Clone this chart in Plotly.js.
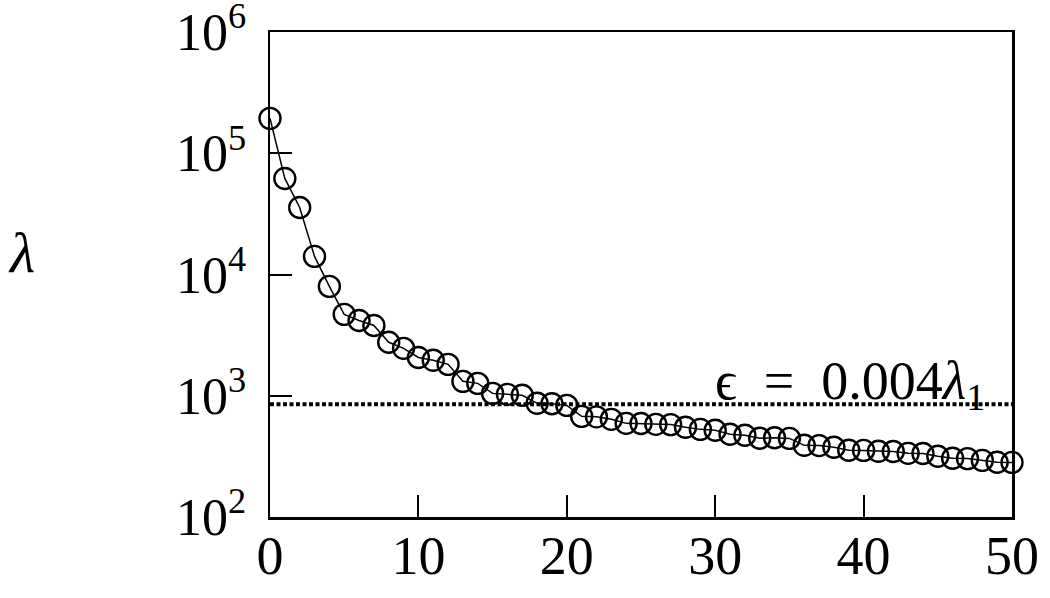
<!DOCTYPE html>
<html>
<head>
<meta charset="utf-8">
<script src="https://cdn.plot.ly/plotly-3.0.1.min.js"></script>
<style>
  html, body { margin: 0; padding: 0; background: #fff; }
  #eigfig { width: 1050px; height: 598px; }
</style>
</head>
<body>
<div id="eigfig"></div>
<script>
// eigenvalue index and value
var idx = [];
for (var i = 0; i <= 50; i++) idx.push(i);

var lambda = [194000, 62000, 35700, 14100, 7980, 4690, 4180, 3800, 2760, 2460,
              2070, 1960, 1815, 1314, 1265, 1046, 1027, 1008, 866, 860,
              833, 676, 670, 639, 592, 590, 581, 578, 549, 528,
              519, 481, 472, 446, 450, 445, 390, 388, 376, 355,
              354, 348, 347, 335, 334, 317, 305, 303, 293, 283, 282];

var epsLevel = 850;   // the dotted threshold line
var epsX = [0, 50];

var yTickVals = [100, 1000, 10000, 100000, 1000000];
var yTickText = ['10<sup>2</sup>', '10<sup>3</sup>', '10<sup>4</sup>', '10<sup>5</sup>', '10<sup>6</sup>'];
var xTickVals = [0, 10, 20, 30, 40, 50];

var serif = 'Liberation Serif, Times New Roman, serif';

var eigTrace = {
  x: idx,
  y: lambda,
  mode: 'lines+markers',
  type: 'scatter',
  line: {color: '#000', width: 1.5},
  marker: {symbol: 'circle-open', size: 21, color: '#000', line: {width: 2.4, color: '#000'}},
  cliponaxis: false,
  showlegend: false,
  hoverinfo: 'none'
};

var epsTrace = {
  x: epsX,
  y: [epsLevel, epsLevel],
  mode: 'lines',
  type: 'scatter',
  line: {color: '#000', width: 4, dash: '4px,2.5px'},
  showlegend: false,
  hoverinfo: 'none'
};

var layout = {
  width: 1050,
  height: 598,
  margin: {l: 270, r: 38, t: 32, b: 81},
  paper_bgcolor: '#fff',
  plot_bgcolor: '#fff',
  font: {family: serif, color: '#000'},
  xaxis: {
    range: [0, 50],
    tickvals: xTickVals,
    ticks: 'inside',
    ticklen: 22,
    tickwidth: 2,
    tickcolor: '#000',
    showline: true,
    mirror: true,
    linewidth: 2.5,
    linecolor: '#000',
    showgrid: false,
    zeroline: false,
    ticklabelstandoff: -10,
    ticklabeloverflow: 'allow',
    tickfont: {family: serif, size: 54, color: '#000'}
  },
  yaxis: {
    type: 'log',
    range: [1.9999, 6.0001],
    tickvals: yTickVals,
    ticktext: yTickText,
    ticks: 'inside',
    ticklen: 22,
    tickwidth: 2,
    tickcolor: '#000',
    showline: true,
    mirror: true,
    linewidth: 2.5,
    linecolor: '#000',
    showgrid: false,
    zeroline: false,
    ticklabelstandoff: 11,
    ticklabeloverflow: 'allow',
    tickfont: {family: serif, size: 52, color: '#000'}
  },
  annotations: [
    {
      text: '<i>λ</i>',
      xref: 'paper', yref: 'paper',
      x: -0.335, y: 0.545,
      xanchor: 'center', yanchor: 'middle',
      showarrow: false,
      font: {family: serif, size: 58, color: '#000'}
    },
    {
      text: 'ϵ&nbsp; =&nbsp; 0.004<i>λ</i><sub>1</sub>',
      xref: 'x', yref: 'paper',
      x: 39.1, y: 0.274,
      xanchor: 'center', yanchor: 'middle',
      showarrow: false,
      font: {family: serif, size: 54, color: '#000'}
    }
  ]
};

Plotly.newPlot('eigfig', [epsTrace, eigTrace], layout, {displayModeBar: false, staticPlot: true});
</script>
</body>
</html>
